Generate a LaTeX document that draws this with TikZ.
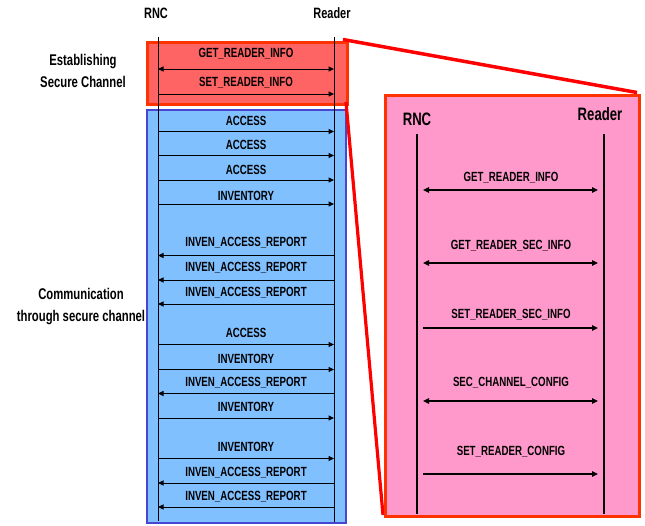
\documentclass[tikz,border=0pt]{standalone}
\usepackage{fontspec}
\setmainfont{Liberation Sans}[FakeStretch=0.73]
\usetikzlibrary{arrows.meta,calc}

\definecolor{setupfill}{HTML}{FF6464}
\definecolor{setupedge}{HTML}{FF3300}
\definecolor{commfill}{HTML}{80C0FF}
\definecolor{commedge}{HTML}{4646D2}
\definecolor{detailfill}{HTML}{FF99CC}
\definecolor{detailedge}{HTML}{FF3300}
\definecolor{zoomline}{HTML}{FF0000}

\tikzset{
  phase/.style={font=\fontsize{15.5}{21.5}\selectfont\bfseries, align=center, inner sep=0pt},
  party/.style={font=\fontsize{15}{17}\selectfont\bfseries, inner sep=0pt},
  bigparty/.style={font=\fontsize{18}{20}\selectfont\bfseries, inner sep=0pt},
  msglabel/.style={font=\fontsize{13.3}{15}\selectfont\bfseries, inner sep=0pt},
  lifeline/.style={line width=0.8pt},
  biglifeline/.style={line width=2.4pt},
  msg/.style={line width=1pt, -{Triangle[length=5.5pt,width=5pt]}},
  msgback/.style={line width=1pt, {Triangle[length=5.5pt,width=5pt]}-},
  msgboth/.style={line width=1pt, {Triangle[length=5.5pt,width=5pt]}-{Triangle[length=5.5pt,width=5pt]}},
  bigmsg/.style={line width=1.3pt, -{Triangle[length=6pt,width=5.5pt]}},
  bigmsgboth/.style={line width=1.3pt, {Triangle[length=6pt,width=5.5pt]}-{Triangle[length=6pt,width=5.5pt]}},
}

\begin{document}
\begin{tikzpicture}[x=1pt, y=-1pt]
\useasboundingbox (0,0) rectangle (645,525);

% phase boxes
\node[draw=commedge, fill=commfill, line width=1.6pt, minimum width=199pt, minimum height=413pt, inner sep=0pt, anchor=north west] (comm) at (146,109) {};
\node[draw=setupedge, fill=setupfill, line width=3.2pt, minimum width=200pt, minimum height=62pt, inner sep=0pt, anchor=north west] (setup) at (145.5,40.5) {};

% zoom-out lines towards the detail view
\coordinate (zA) at (343,39.5);
\coordinate (zB) at (637,92.5);
\coordinate (zC) at (346,102);
\coordinate (zD) at (383,515);
\draw[zoomline, line width=3.5pt] (zA) -- (zB);
\draw[zoomline, line width=3.2pt] (zC) -- (zD);

% detail view
\node[draw=detailedge, fill=detailfill, line width=3pt, minimum width=254pt, minimum height=421pt, inner sep=0pt, anchor=north west] (detail) at (383.5,93.5) {};

% participants of the overview
\node[party] (rnc) at (156,13) {RNC};
\node[party] (reader) at (332,13) {Reader};
\coordinate (rncTop) at (158,37);
\coordinate (rncBot) at (158,521);
\coordinate (rdrTop) at (334,37);
\coordinate (rdrBot) at (334,522);
\draw[lifeline] (rncTop) -- (rncBot);
\draw[lifeline] (rdrTop) -- (rdrBot);

% phase captions
\node[phase] (estab) at (83,71) {Establishing\\Secure Channel};
\node[phase] (commtxt) at (81,306.5) {Communication\\through secure channel};

% overview messages: arrow y / label y / text / style
\foreach \y/\ly/\t/\s [count=\i] in {
   69/53.5/GET\_READER\_INFO/msgboth,
   94/83/SET\_READER\_INFO/msg,
  131.5/121/ACCESS/msg,
  155.5/145/ACCESS/msg,
  180/169.5/ACCESS/msg,
  204/195.5/INVENTORY/msg,
  255.5/243/INVEN\_ACCESS\_REPORT/msgback,
  280/268/INVEN\_ACCESS\_REPORT/msgback,
  304/293/INVEN\_ACCESS\_REPORT/msgback,
  344.5/333/ACCESS/msg,
  369.5/358.5/INVENTORY/msg,
  393.5/383/INVEN\_ACCESS\_REPORT/msgback,
  418/407/INVENTORY/msg,
  458.5/447/INVENTORY/msg,
  483/472.5/INVEN\_ACCESS\_REPORT/msgback,
  507/496.5/INVEN\_ACCESS\_REPORT/msgback} {
  \coordinate (ml\i) at (158,\y);
  \coordinate (mr\i) at (334,\y);
  \draw[\s] (ml\i) -- (mr\i);
  \node[msglabel] (mt\i) at (246,\ly) {\t};
}

% detail participants
\node[bigparty] (drnc) at (417,119) {RNC};
\node[bigparty] (dreader) at (600,114) {Reader};
\coordinate (drncTop) at (417,134);
\coordinate (drncBot) at (417,514);
\coordinate (drdrTop) at (604,134);
\coordinate (drdrBot) at (604,514);
\draw[biglifeline] (drncTop) -- (drncBot);
\draw[biglifeline] (drdrTop) -- (drdrBot);

% detail messages: arrow y / label y / text / style
\foreach \y/\ly/\t/\s [count=\i] in {
  190/177.5/GET\_READER\_INFO/bigmsgboth,
  263/245.5/GET\_READER\_SEC\_INFO/bigmsgboth,
  328/314.5/SET\_READER\_SEC\_INFO/bigmsg,
  401/382.5/SEC\_CHANNEL\_CONFIG/bigmsgboth,
  474/452/SET\_READER\_CONFIG/bigmsg} {
  \coordinate (dl\i) at (423,\y);
  \coordinate (dr\i) at (598,\y);
  \draw[\s] (dl\i) -- (dr\i);
  \node[msglabel] (dt\i) at (511,\ly) {\t};
}
\end{tikzpicture}
\end{document}
